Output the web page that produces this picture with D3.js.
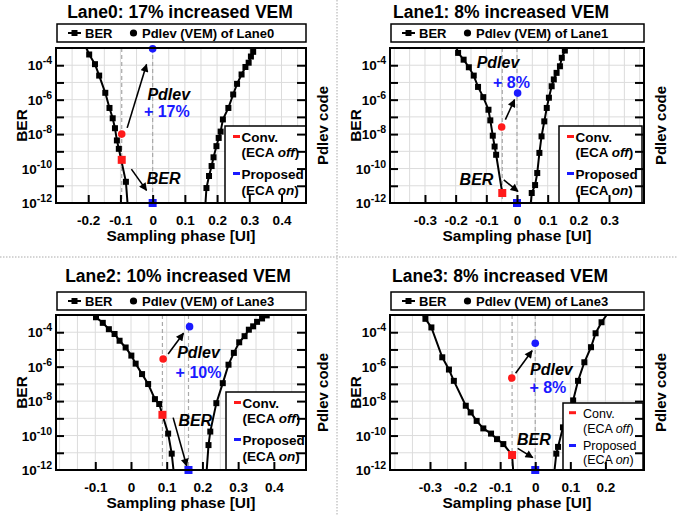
<!DOCTYPE html>
<html>
<head>
<meta charset="utf-8">
<script src="https://cdn.jsdelivr.net/npm/d3@7"></script>
<style>
    body { margin: 0; background: #fff; }
    svg text { font-family: "Liberation Sans", Arial, sans-serif; }
</style>
</head>
<body>
<div id="chart"></div>
<script>
// ---- measured data (phase in UI, BER) ----
// Lane0
var lane0LeftPhase = [-0.206, -0.197, -0.179, -0.166, -0.147, -0.134, -0.124, -0.117, -0.111, -0.105, -0.083, -0.078];
var lane0LeftBer = [1e-3, 4.2e-4, 1.15e-4, 2.5e-5, 2.5e-6, 3.3e-7, 8.3e-8, 2.2e-8, 4.3e-9, 1.4e-9, 1.7e-11, 1e-12];
var lane0RightPhase = [0.164, 0.167, 0.175, 0.183, 0.189, 0.198, 0.205, 0.211, 0.218, 0.235, 0.25, 0.262, 0.276, 0.288, 0.298, 0.305, 0.312, 0.318];
var lane0RightBer = [1e-12, 7.4e-12, 3.7e-11, 1.4e-10, 4.5e-10, 2e-9, 6e-9, 1.4e-8, 7.1e-8, 3.3e-7, 2e-6, 8.3e-6, 2.9e-5, 7.9e-5, 1.4e-4, 3.2e-4, 6e-4, 1e-3];
// Lane1
var lane1LeftPhase = [-0.197, -0.192, -0.174, -0.157, -0.141, -0.127, -0.11, -0.093, -0.087, -0.079, -0.073, -0.068, -0.048];
var lane1LeftBer = [1e-3, 5.2e-4, 2.1e-4, 7.6e-5, 2.5e-5, 5.5e-6, 1.4e-6, 2.6e-7, 6.3e-8, 8.1e-9, 1.9e-9, 6.3e-10, 3.8e-12];
var lane1RightPhase = [0.045, 0.048, 0.059, 0.066, 0.073, 0.08, 0.089, 0.097, 0.104, 0.113, 0.12, 0.129, 0.14, 0.146, 0.156, 0.16];
var lane1RightBer = [1e-12, 3.8e-12, 1.1e-11, 5.5e-11, 8.1e-10, 7.4e-9, 5.5e-8, 3.3e-7, 1.3e-6, 6e-6, 1.5e-5, 3.6e-5, 8.7e-5, 2.7e-4, 7.1e-4, 1e-3];
// Lane2
var lane2LeftPhase = [-0.105, -0.098, -0.079, -0.062, -0.046, -0.032, -0.015, 0.001, 0.013, 0.031, 0.048, 0.067, 0.079, 0.088, 0.104, 0.114, 0.119];
var lane2LeftBer = [1e-3, 7.4e-4, 3.5e-4, 1.5e-4, 7.9e-5, 3.2e-5, 1.3e-5, 4.4e-6, 1.5e-6, 3.7e-7, 9.8e-8, 1.3e-8, 6.8e-9, 1.6e-9, 1.3e-10, 8.9e-12, 1e-12];
var lane2RightPhase = [0.212, 0.217, 0.222, 0.239, 0.257, 0.273, 0.288, 0.303, 0.318, 0.33, 0.342, 0.353, 0.367, 0.38, 0.392];
var lane2RightBer = [1e-12, 2.8e-11, 1.7e-10, 7.6e-9, 1.1e-7, 1.3e-6, 6.3e-6, 2.6e-5, 5.9e-5, 1.4e-4, 2.2e-4, 4e-4, 6.3e-4, 9.5e-4, 1.5e-3];
// Lane3
var lane3LeftPhase = [-0.32, -0.313, -0.296, -0.265, -0.246, -0.232, -0.198, -0.184, -0.167, -0.148, -0.126, -0.109, -0.091, -0.066, -0.063];
var lane3LeftBer = [1e-3, 6e-4, 1.9e-4, 3.5e-6, 6.8e-7, 1.5e-7, 5.4e-9, 2.2e-9, 7.1e-10, 2.6e-10, 1.3e-10, 6.2e-11, 3.2e-11, 7.4e-12, 1e-12];
var lane3RightPhase = [0.055, 0.06, 0.065, 0.079, 0.108, 0.122, 0.14, 0.159, 0.172, 0.189, 0.206];
var lane3RightBer = [1e-12, 8.9e-12, 2.2e-11, 3e-10, 1.1e-8, 1.5e-7, 1.8e-6, 1.35e-5, 8.7e-5, 3.8e-4, 1.2e-3];

// conv. (ECA off) / proposed (ECA on) operating points: [phase, BER]
var convBer = [[-0.096, 3.2e-10], [-0.048, 3.8e-12], [0.088, 1.6e-9], [-0.066, 7.4e-12]];
var propBer = [[0, 1e-12], [0, 1e-12], [0.161, 1e-12], [0, 1e-12]];
// Pdlev (VEM) points, drawn on the Pdlev code axis (same height as BER scale)
var convPdlev = [[-0.096, 1e-8], [-0.05, 2.6e-8], [0.09, 2.8e-6], [-0.067, 2.2e-7]];
var propPdlev = [[0, 8.9e-4], [0.002, 2.4e-6], [0.164, 2.1e-4], [0, 2.3e-5]];

// labels
var laneTitles = ["Lane0: 17% increased VEM", "Lane1: 8% increased VEM", "Lane2: 10% increased VEM", "Lane3: 8% increased VEM"];
var legendLanes = ["Lane0", "Lane1", "Lane3", "Lane3"];
var gainLabels = ["+ 17%", "+ 8%", "+ 10%", "+ 8%"];
var phaseTicks = [
    [-0.2, -0.1, 0, 0.1, 0.2, 0.3, 0.4],
    [-0.3, -0.2, -0.1, 0, 0.1, 0.2, 0.3],
    [-0.1, 0, 0.1, 0.2, 0.3, 0.4],
    [-0.3, -0.2, -0.1, 0, 0.1, 0.2]
];
var berLabelExps = [-4, -6, -8, -10, -12];
var berTickExps = [-4, -5, -6, -7, -8, -9, -10, -11];

function pairs(xs, ys) {
    return xs.map(function (d, i) { return [d, ys[i]]; });
}

var curves = [
    [pairs(lane0LeftPhase, lane0LeftBer), pairs(lane0RightPhase, lane0RightBer)],
    [pairs(lane1LeftPhase, lane1LeftBer), pairs(lane1RightPhase, lane1RightBer)],
    [pairs(lane2LeftPhase, lane2LeftBer), pairs(lane2RightPhase, lane2RightBer)],
    [pairs(lane3LeftPhase, lane3LeftBer), pairs(lane3RightPhase, lane3RightBer)]
];

// layout of the four panels
var panels = [
    { frame: { left: 56, right: 306, top: 48, bottom: 203 }, titleX: 180, titleY: 18, legendY: 24,
      xDomain: [-0.3, 0.476],
      box: { x: 225, y: 126, w: 81, h: 77, small: false },
      pdlevText: [0.05, 2e-6], gainText: [0.044, 2.1e-7], berText: [0.034, 2.8e-11],
      pdArrow: [[-0.079, 2.3e-8], [-0.019, 1.1e-4]], berArrow: [[-0.066, 9.3e-11], [-0.019, 5.4e-12]] },
    { frame: { left: 390, right: 644, top: 48, bottom: 203 }, titleX: 501, titleY: 18, legendY: 24,
      xDomain: [-0.414, 0.414],
      box: { x: 559, y: 126, w: 83, h: 77, small: false },
      pdlevText: [-0.062, 1.4e-4], gainText: [-0.018, 9.3e-6], berText: [-0.132, 2.2e-11],
      pdArrow: [[-0.038, 6.9e-8], [-0.008, 1e-6]], berArrow: [[-0.043, 2.2e-11], [0.003, 4.7e-12]] },
    { frame: { left: 56, right: 306, top: 315, bottom: 470 }, titleX: 178, titleY: 282, legendY: 292,
      xDomain: [-0.21, 0.49],
      box: { x: 226, y: 392, w: 80, h: 78, small: false },
      pdlevText: [0.189, 6.8e-6], gainText: [0.189, 4.7e-7], berText: [0.18, 7.1e-10],
      pdArrow: [[0.104, 5.5e-6], [0.147, 8.7e-5]], berArrow: [[0.118, 1.1e-9], [0.156, 1.7e-12]] },
    { frame: { left: 390, right: 644, top: 315, bottom: 470 }, titleX: 500, titleY: 282, legendY: 292,
      xDomain: [-0.414, 0.31],
      box: { x: 563, y: 403, w: 80, h: 67, small: true },
      pdlevText: [0.046, 7.2e-7], gainText: [0.036, 6.3e-8], berText: [-0.004, 6.2e-11],
      pdArrow: [[-0.056, 4.1e-7], [-0.009, 8.5e-6]], berArrow: [[-0.05, 1.8e-11], [-0.007, 5.2e-12]] }
];

var RED = "#ff1a1a", BLUE = "#1a1aff";
var width = 678, height = 516;

var svg = d3.select("#chart")
    .append("svg")
    .attr("width", width)
    .attr("height", height);

var defs = svg.append("defs");
defs.append("marker")
    .attr("id", "arrow")
    .attr("viewBox", "0 0 10 10")
    .attr("refX", 9)
    .attr("refY", 5)
    .attr("markerWidth", 9)
    .attr("markerHeight", 8)
    .attr("markerUnits", "userSpaceOnUse")
    .attr("orient", "auto")
    .append("path")
    .attr("d", "M0,0L10,5L0,10Z")
    .attr("fill", "#000");

// dotted separators between panels
svg.append("line").attr("x1", 337).attr("x2", 337).attr("y1", 0).attr("y2", height)
    .attr("stroke", "#aaa").attr("stroke-dasharray", "1.5,1.5");
svg.append("line").attr("x1", 0).attr("x2", width).attr("y1", 257).attr("y2", 257)
    .attr("stroke", "#aaa").attr("stroke-dasharray", "1.5,1.5");

panels.forEach(function (p, i) { drawPanel(p, i); });

function drawPanel(p, i) {
    var f = p.frame;
    var g = svg.append("g");
    var x = d3.scaleLinear().domain(p.xDomain).range([f.left, f.right]);
    var y = d3.scaleLog().domain([1e-12, 1e-3]).range([f.bottom, f.top]);

    defs.append("clipPath").attr("id", "clip" + i)
        .append("rect")
        .attr("x", f.left).attr("y", f.top)
        .attr("width", f.right - f.left).attr("height", f.bottom - f.top);

    // grid
    var vGrid = d3.range(-10, 11).map(function (k) { return k * 0.05; })
        .filter(function (v) { return v > p.xDomain[0] + 0.001 && v < p.xDomain[1] - 0.001; });
    g.selectAll(".vgrid").data(vGrid).enter().append("line")
        .attr("x1", d => x(d)).attr("x2", d => x(d))
        .attr("y1", f.top).attr("y2", f.bottom)
        .attr("stroke", "#dcdcdc").attr("stroke-width", 1);
    g.selectAll(".hgrid").data(berTickExps).enter().append("line")
        .attr("x1", f.left).attr("x2", f.right)
        .attr("y1", d => y(Math.pow(10, d))).attr("y2", d => y(Math.pow(10, d)))
        .attr("stroke", "#dcdcdc").attr("stroke-width", 1);

    // dashed guides at conv. and proposed phases
    [convBer[i][0], propBer[i][0]].forEach(function (ph) {
        g.append("line")
            .attr("x1", x(ph)).attr("x2", x(ph))
            .attr("y1", f.top).attr("y2", f.bottom)
            .attr("stroke", "#a8a8a8").attr("stroke-width", 1.2)
            .attr("stroke-dasharray", "4,3");
    });

    // BER bathtub curves
    var line = d3.line().x(d => x(d[0])).y(d => y(d[1]));
    var plot = g.append("g").attr("clip-path", "url(#clip" + i + ")");
    curves[i].forEach(function (branch) {
        plot.append("path")
            .datum(branch)
            .attr("d", line)
            .attr("fill", "none")
            .attr("stroke", "#000")
            .attr("stroke-width", 2);
        plot.selectAll(null)
            .data(branch.filter(d => d[1] > 1e-12 && d[1] < 1e-3))
            .enter().append("rect")
            .attr("x", d => x(d[0]) - 3)
            .attr("y", d => y(d[1]) - 3)
            .attr("width", 6).attr("height", 6)
            .attr("fill", "#000");
    });

    // arrows
    [p.pdArrow, p.berArrow].forEach(function (a) {
        g.append("line")
            .attr("x1", x(a[0][0])).attr("y1", y(a[0][1]))
            .attr("x2", x(a[1][0])).attr("y2", y(a[1][1]))
            .attr("stroke", "#000").attr("stroke-width", 1.6)
            .attr("marker-end", "url(#arrow)");
    });

    // operating points
    [[convBer[i], RED], [propBer[i], BLUE]].forEach(function (m) {
        g.append("rect")
            .attr("x", x(m[0][0]) - 4).attr("y", y(m[0][1]) - 4)
            .attr("width", 8).attr("height", 8)
            .attr("fill", m[1]);
    });
    [[convPdlev[i], RED], [propPdlev[i], BLUE]].forEach(function (m) {
        g.append("circle")
            .attr("cx", x(m[0][0])).attr("cy", y(m[0][1]))
            .attr("r", 3.8)
            .attr("fill", m[1]);
    });

    // annotations
    g.append("text").attr("x", x(p.pdlevText[0])).attr("y", y(p.pdlevText[1]))
        .attr("text-anchor", "middle").attr("dominant-baseline", "central")
        .style("font-size", "16px").style("font-weight", "bold").style("font-style", "italic")
        .text("Pdlev");
    g.append("text").attr("x", x(p.gainText[0])).attr("y", y(p.gainText[1]))
        .attr("text-anchor", "middle").attr("dominant-baseline", "central")
        .style("font-size", "16px").style("font-weight", "bold").style("fill", BLUE)
        .text(gainLabels[i]);
    g.append("text").attr("x", x(p.berText[0])).attr("y", y(p.berText[1]))
        .attr("text-anchor", "middle").attr("dominant-baseline", "central")
        .style("font-size", "16px").style("font-weight", "bold").style("font-style", "italic")
        .text("BER");

    // conv./proposed legend box
    var b = p.box;
    var lg = g.append("g");
    lg.append("rect").attr("x", b.x).attr("y", b.y).attr("width", b.w).attr("height", b.h)
        .attr("fill", "#fff").attr("stroke", "#000").attr("stroke-width", 1.5);
    var fs = b.small ? 12.5 : 13.5;
    var fw = b.small ? "normal" : "bold";
    var tx = b.x + (b.small ? 20 : 16.5);
    var dx0 = b.x + (b.small ? 6 : 8);
    var rows = b.small ? [9.7, 15, 29.5, 42.5, 47, 61] : [10.5, 15.5, 31, 47.5, 52.5, 69];
    [[rows[0], RED], [rows[3], BLUE]].forEach(function (r) {
        lg.append("line").attr("x1", dx0).attr("x2", dx0 + 7)
            .attr("y1", b.y + r[0]).attr("y2", b.y + r[0])
            .attr("stroke", r[1]).attr("stroke-width", 3);
    });
    var legendText = [["Conv.", null], ["(ECA ", "off"], ["Proposed", null], ["(ECA ", "on"]];
    [rows[1], rows[2], rows[4], rows[5]].forEach(function (ry, k) {
        var t = lg.append("text").attr("x", tx).attr("y", b.y + ry)
            .style("font-size", fs + "px").style("font-weight", fw);
        t.append("tspan").text(legendText[k][0]);
        if (legendText[k][1]) {
            t.append("tspan").style("font-style", "italic").text(legendText[k][1]);
            t.append("tspan").text(")");
        }
    });

    // frame
    g.append("rect")
        .attr("x", f.left).attr("y", f.top)
        .attr("width", f.right - f.left).attr("height", f.bottom - f.top)
        .attr("fill", "none").attr("stroke", "#000").attr("stroke-width", 2);

    // axes
    var fmt = function (d) { return d === 0 ? "0" : d3.format(".1f")(d).replace("\u2212", "-"); };
    var xAxis = g.append("g")
        .attr("transform", "translate(0," + f.bottom + ")")
        .call(d3.axisBottom(x).tickValues(phaseTicks[i]).tickSize(-8).tickPadding(12).tickFormat(fmt));
    var yAxisL = g.append("g")
        .attr("transform", "translate(" + f.left + ",0)")
        .call(d3.axisLeft(y).tickValues(berTickExps.map(e => Math.pow(10, e))).tickSize(-8).tickFormat(""));
    var yAxisR = g.append("g")
        .attr("transform", "translate(" + f.right + ",0)")
        .call(d3.axisRight(y).tickValues(berTickExps.map(e => Math.pow(10, e))).tickSize(-9).tickFormat(""));
    [xAxis, yAxisL, yAxisR].forEach(function (ax) {
        ax.select(".domain").remove();
        ax.selectAll(".tick line").attr("stroke", "#000").attr("stroke-width", 2);
    });
    xAxis.selectAll(".tick text")
        .attr("font-family", null).attr("font-size", null)
        .style("font-size", "13.5px").style("font-weight", "bold").attr("fill", "#000");

    // BER tick labels 10^n
    berLabelExps.forEach(function (e) {
        var t = g.append("text")
            .attr("x", f.left - 4).attr("y", y(Math.pow(10, e)) + 5)
            .attr("text-anchor", "end")
            .style("font-weight", "bold");
        t.append("tspan").style("font-size", "13.5px").text("10");
        t.append("tspan").style("font-size", "10.5px").attr("dy", -6).text("-" + Math.abs(e));
    });

    // axis titles
    g.append("text")
        .attr("x", (f.left + f.right) / 2).attr("y", f.bottom + 38)
        .attr("text-anchor", "middle")
        .style("font-size", "15.5px").style("font-weight", "bold")
        .text("Sampling phase [UI]");
    g.append("text")
        .attr("transform", "translate(" + (f.left - 35) + "," + ((f.top + f.bottom) / 2) + ") rotate(-90)")
        .attr("text-anchor", "middle").attr("dominant-baseline", "central")
        .style("font-size", "15.5px").style("font-weight", "bold")
        .text("BER");
    g.append("text")
        .attr("transform", "translate(" + (f.right + 16) + "," + ((f.top + f.bottom) / 2) + ") rotate(-90)")
        .attr("text-anchor", "middle").attr("dominant-baseline", "central")
        .style("font-size", "15px").style("font-weight", "bold")
        .text("Pdlev code");

    // title
    g.append("text")
        .attr("x", p.titleX).attr("y", p.titleY)
        .attr("text-anchor", "middle")
        .style("font-size", "17.5px").style("font-weight", "bold")
        .text(laneTitles[i]);

    // top legend
    var tl = g.append("g");
    var lx = f.left + 1;
    tl.append("rect").attr("x", lx).attr("y", p.legendY)
        .attr("width", f.right - lx).attr("height", 18)
        .attr("fill", "#fff").attr("stroke", "#000").attr("stroke-width", 1.5);
    var my = p.legendY + 9;
    tl.append("line").attr("x1", lx + 11).attr("x2", lx + 24).attr("y1", my).attr("y2", my)
        .attr("stroke", "#000").attr("stroke-width", 2);
    tl.append("rect").attr("x", lx + 14.5).attr("y", my - 3).attr("width", 6).attr("height", 6).attr("fill", "#000");
    tl.append("text").attr("x", lx + 28).attr("y", my + 4.5)
        .style("font-size", "13px").style("font-weight", "bold").text("BER");
    tl.append("circle").attr("cx", lx + 76.5).attr("cy", my).attr("r", 3.6).attr("fill", "#000");
    tl.append("text").attr("x", lx + 85).attr("y", my + 4.5)
        .style("font-size", "13px").style("font-weight", "bold")
        .text("Pdlev (VEM) of " + legendLanes[i]);
}
</script>
</body>
</html>
